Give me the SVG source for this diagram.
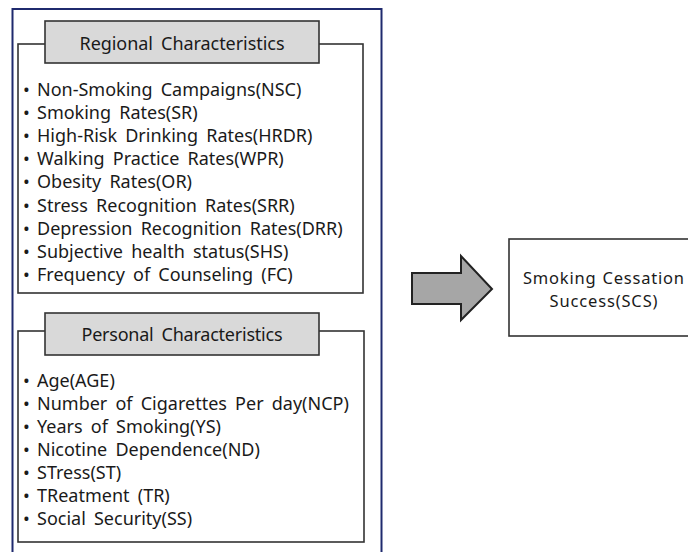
<svg xmlns="http://www.w3.org/2000/svg" width="688" height="552" viewBox="0 0 688 552">
<style>
.frame{fill:#fff;stroke:#1f2a6e;stroke-width:2}
.box{fill:#fff;stroke:#333;stroke-width:1.6}
.title{fill:#d9d9d9;stroke:#333;stroke-width:1.6}
text{font-family:"Noto Sans","Open Sans",sans-serif;font-size:18px;word-spacing:3.5px;fill:#1a1a1a}
.c{text-anchor:middle}
.big{font-size:16.5px;word-spacing:1px}
</style>
<rect width="688" height="552" fill="#fff"/>
<rect class="frame" x="12.5" y="9" width="369" height="560"/>
<g id="regional">
<rect class="box" x="18" y="44" width="345" height="249"/>
<rect class="title" x="45" y="21" width="274" height="42"/>
<text class="c" x="182" y="50" textLength="205" lengthAdjust="spacing">Regional Characteristics</text>
<g>
<text x="23" y="96">•</text><text x="37" y="96">Non-Smoking Campaigns(NSC)</text>
<text x="23" y="119.1">•</text><text x="37" y="119.1">Smoking Rates(SR)</text>
<text x="23" y="142.2">•</text><text x="37" y="142.2">High-Risk Drinking Rates(HRDR)</text>
<text x="23" y="165.3">•</text><text x="37" y="165.3">Walking Practice Rates(WPR)</text>
<text x="23" y="188.4">•</text><text x="37" y="188.4">Obesity Rates(OR)</text>
<text x="23" y="211.5">•</text><text x="37" y="211.5">Stress Recognition Rates(SRR)</text>
<text x="23" y="234.6">•</text><text x="37" y="234.6">Depression Recognition Rates(DRR)</text>
<text x="23" y="257.7">•</text><text x="37" y="257.7">Subjective health status(SHS)</text>
<text x="23" y="280.8">•</text><text x="37" y="280.8">Frequency of Counseling (FC)</text>
</g>
</g>
<g id="personal">
<rect class="box" x="18" y="331" width="346" height="211"/>
<rect class="title" x="45" y="313" width="274" height="42"/>
<text class="c" x="182" y="340.7" textLength="201" lengthAdjust="spacing">Personal Characteristics</text>
<g>
<text x="23" y="386.9">•</text><text x="37" y="386.9">Age(AGE)</text>
<text x="23" y="410">•</text><text x="37" y="410">Number of Cigarettes Per day(NCP)</text>
<text x="23" y="433">•</text><text x="37" y="433">Years of Smoking(YS)</text>
<text x="23" y="456.1">•</text><text x="37" y="456.1">Nicotine Dependence(ND)</text>
<text x="23" y="479.1">•</text><text x="37" y="479.1">STress(ST)</text>
<text x="23" y="502.2">•</text><text x="37" y="502.2">TReatment (TR)</text>
<text x="23" y="525.2">•</text><text x="37" y="525.2">Social Security(SS)</text>
</g>
</g>
<g id="connectors">
<path d="M412,273 H461 V256 L492,289 L461,320 V304 H412 Z" fill="#a6a6a6" stroke="#222" stroke-width="2" stroke-linejoin="miter"/>
</g>
<g id="scs">
<rect class="box" x="509" y="239" width="190" height="97"/>
<text class="c big" x="603.5" y="284" textLength="161" lengthAdjust="spacing">Smoking Cessation</text>
<text class="c big" x="603.5" y="306.5" textLength="108" lengthAdjust="spacing">Success(SCS)</text>
</g>
</svg>
